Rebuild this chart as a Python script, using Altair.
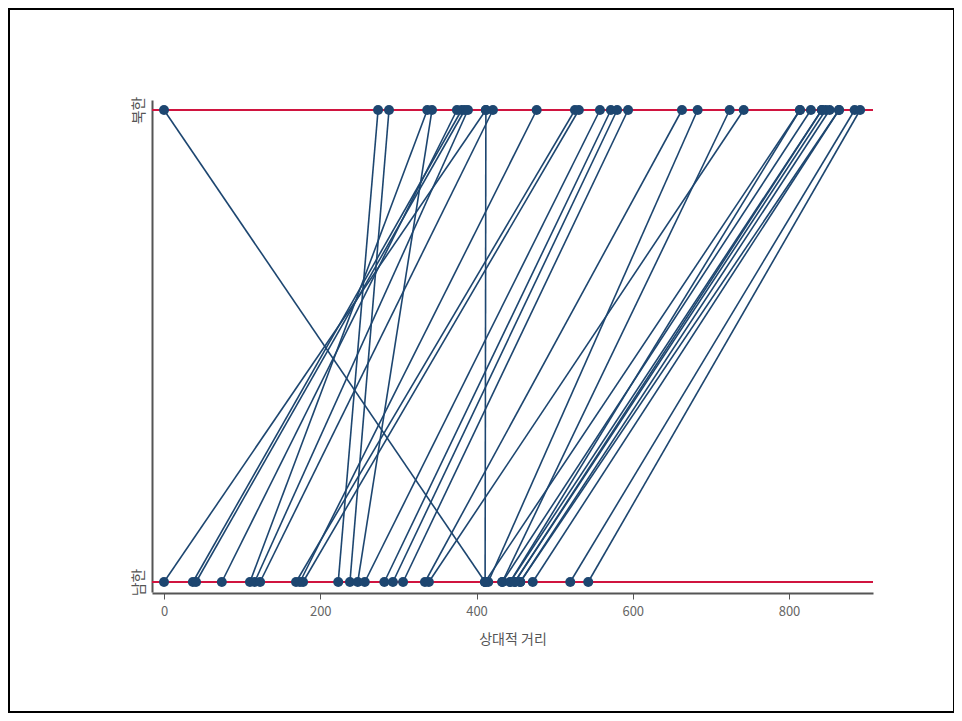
import altair as alt
import pandas as pd

# paired positions: 남한 (bottom) -> 북한 (top)
south_x = [0, 37, 41, 74, 110, 116, 123, 169, 174, 178, 223, 238, 248, 257, 282, 293, 306,
           334, 339, 411, 411, 415, 433, 433, 443, 449, 456, 472, 411, 520, 543, 443, 456, 449]
north_x = [412, 381, 385, 375, 337, 389, 421, 526, 477, 531, 274, 288, 343, 558, 572, 580, 594,
           663, 742, 0, 412, 683, 724, 828, 842, 847, 852, 864, 814, 884, 891, 814, 864, 842]
group_labels = ["남한", "북한"]
x_ticks = [0, 200, 400, 600, 800]

rows = []
for i, (s, n) in enumerate(zip(south_x, north_x)):
    rows.append({"pair": i, "x": s, "y": 0})
    rows.append({"pair": i, "x": n, "y": 1})
df = pd.DataFrame(rows)
ref = pd.DataFrame({"y": [0, 1]})

FONT = "Noto Sans CJK KR"
BLUE = "#1d4670"
RED = "#d0143f"

xs = alt.Scale(domain=[-15.36, 907.5], nice=False, zero=False)
ys = alt.Scale(domain=[-0.0212, 1.0212], nice=False, zero=False)

x_axis = alt.Axis(title="상대적 거리", values=x_ticks, grid=False, tickSize=6,
                  domainColor="#555555", domainWidth=2, tickColor="#555555",
                  labelColor="#666666", labelFontSize=13, labelFont=FONT,
                  titleFont=FONT, titleFontSize=14, titleFontWeight="normal",
                  titleColor="#555555", titlePadding=14, labelPadding=6, offset=1)
y_axis = alt.Axis(title=None, values=[0, 1], grid=False, ticks=False,
                  labelExpr="datum.value == 0 ? '남한' : '북한'",
                  labelAngle=-90, labelAlign="center", labelBaseline="bottom",
                  domainColor="#555555", domainWidth=2,
                  labelColor="#555555", labelFontSize=15, labelFont=FONT, labelPadding=6)

rules = alt.Chart(ref).mark_rule(color=RED, strokeWidth=2).encode(
    y=alt.Y("y:Q", scale=ys, axis=y_axis)
)
lines = alt.Chart(df).mark_line(color=BLUE, strokeWidth=1.6).encode(
    x=alt.X("x:Q", scale=xs, axis=x_axis),
    y=alt.Y("y:Q", scale=ys, axis=y_axis),
    detail="pair:N",
)
points = alt.Chart(df).mark_circle(color=BLUE, opacity=1, size=100).encode(
    x=alt.X("x:Q", scale=xs),
    y=alt.Y("y:Q", scale=ys),
)
frame = alt.Chart(ref).mark_rect(fill=None, stroke="black", strokeWidth=2).encode(
    x=alt.value(-143), x2=alt.value(802), y=alt.value(-91), y2=alt.value(612)
)

chart = alt.layer(rules, lines, points, frame).properties(
    width=721, height=492,
    padding={"left": 144, "top": 92, "right": 81, "bottom": 121},
    autosize=alt.AutoSizeParams(type="none"),
    background="white",
).configure_view(stroke=None)

chart.save("out.html", embed_options={"renderer": "svg", "actions": False})
